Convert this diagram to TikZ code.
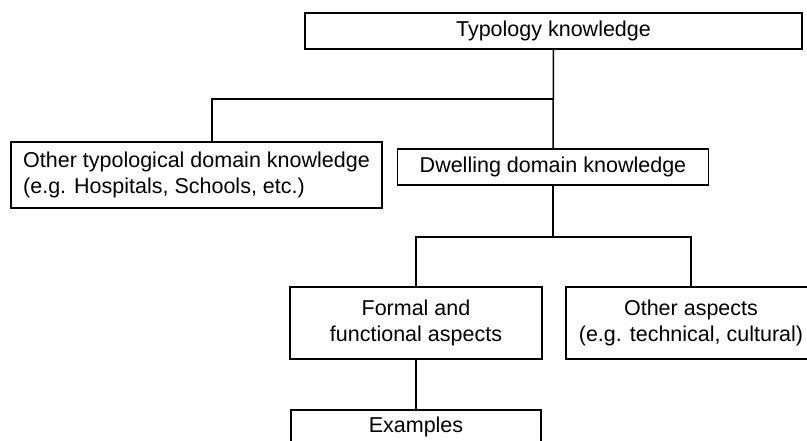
\documentclass[tikz,border=0pt]{standalone}
\usepackage{fontspec}
\setmainfont{Liberation Sans}
\begin{document}
\begin{tikzpicture}[x=1pt,y=-1pt,
  box/.style={draw, line width=1.5pt, inner sep=0pt, align=center,
    font=\fontsize{21.5}{26}\selectfont},
  link/.style={line width=1.5pt}]
\useasboundingbox (0,0) rectangle (807,440);
\clip (0,0) rectangle (807,440);
% boxes
\node[box, minimum width=497pt, minimum height=36pt] (top) at (553.5,31) {Typology knowledge};
\node[box, minimum width=371pt, minimum height=66pt, align=left] (oth) at (196.5,175)
  {Other typological domain knowledge\\(e.g. Hospitals, Schools, etc.)};
\node[box, minimum width=311pt, minimum height=36pt] (dw) at (553,167) {Dwelling domain knowledge};
\node[box, minimum width=252pt, minimum height=72pt] (fa) at (416,323) {Formal and\\functional aspects};
\node[box, minimum width=250pt, minimum height=72pt] (oa) at (691,323) {Other aspects\\(e.g. technical, cultural)};
\node[box, minimum width=250pt, minimum height=34pt] (ex) at (416,427) {Examples};
% connectors
\coordinate (j1) at (553,99);
\coordinate (j2) at (553,237);
\draw[link] (top.south) -- (dw.north);
\draw[link] (j1) -| ([xshift=15.5pt]oth.north);
\draw[link] (dw.south) -- (j2);
\draw[link] (fa.north) |- (j2) -| (oa.north);
\draw[link] (fa.south) -- (ex.north);
\end{tikzpicture}
\end{document}
